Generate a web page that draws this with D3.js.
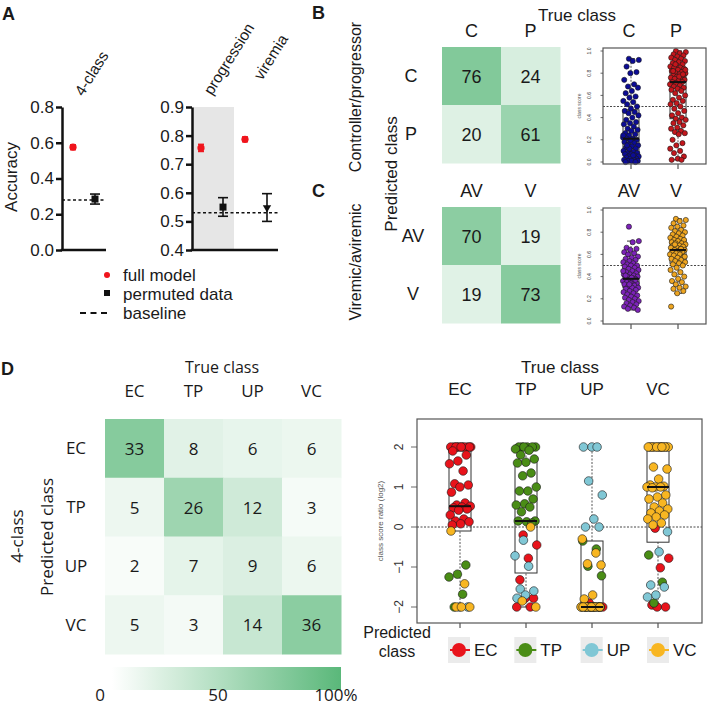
<!DOCTYPE html>
<html><head><meta charset="utf-8">
<script src="https://cdn.jsdelivr.net/npm/d3@7"></script>
<style>body{margin:0;background:#fff}svg{display:block}</style>
</head><body><svg id="c" width="709" height="715"></svg>
<script>
const F = "'Liberation Sans', Arial, Helvetica, sans-serif";
const FO = "'Open Sans', 'Liberation Sans', sans-serif";

// ---------- Panel A data ----------
const aLeftCats = ["4-class"];
const aLeftFull = [0.575], aLeftFullErr = [0.013];
const aLeftPerm = [0.285], aLeftPermLo = [0.257], aLeftPermHi = [0.313];
const aLeftBaseline = 0.28;
const aLeftTicks = [0, 0.2, 0.4, 0.6, 0.8];
const aRightCats = ["progression", "viremia"];
const aRightFull = [0.757, 0.787], aRightFullErr = [0.012, 0.008];
const aRightPerm = [0.55, 0.548], aRightPermLo = [0.518, 0.500], aRightPermHi = [0.583, 0.597];
const aRightBaseline = 0.53;
const aRightTicks = [0.4, 0.5, 0.6, 0.7, 0.8, 0.9];
const aLegend = ["full model", "permuted data", "baseline"];

// ---------- Panel B/C data ----------
const bClasses = ["C", "P"];
const bMatrix = [[76, 24], [20, 61]];
const cClasses = ["AV", "V"];
const cMatrix = [[70, 19], [19, 73]];
const stripTicks = [0, 0.2, 0.4, 0.6, 0.8, 1.0];
const bScoresC = [0.93,0.92,0.91,0.86,0.81,0.80,0.74,0.70,0.68,0.67,0.64,0.62,0.59,0.58,0.55,0.54,0.52,0.50,0.48,0.46,0.45,0.44,0.42,0.40,0.38,0.36,0.35,0.34,0.32,0.30,0.29,0.28,0.26,0.25,0.24,0.22,0.21,0.21,0.20,0.19,0.18,0.17,0.16,0.15,0.14,0.13,0.12,0.11,0.10,0.09,0.08,0.08,0.07,0.07,0.06,0.05,0.05,0.04,0.04,0.03,0.03,0.02,0.02,0.01,0.01,0.01,0.00,0.00,0.12,0.24,0.06,0.15];
const bScoresP = [1.0,0.99,0.98,0.97,0.96,0.95,0.94,0.93,0.92,0.91,0.90,0.89,0.88,0.87,0.86,0.85,0.85,0.84,0.83,0.82,0.81,0.80,0.80,0.79,0.78,0.78,0.77,0.76,0.75,0.75,0.74,0.73,0.72,0.72,0.71,0.70,0.69,0.68,0.67,0.66,0.65,0.64,0.62,0.60,0.58,0.56,0.55,0.53,0.52,0.50,0.48,0.46,0.44,0.42,0.40,0.39,0.38,0.36,0.35,0.33,0.31,0.30,0.28,0.27,0.26,0.25,0.20,0.17,0.15,0.12,0.10,0.08,0.05,0.03,0.02,0.02,0.88,0.83,0.77,0.82,0.79];
const bBox = {q1:[0.07,0.39], med:[0.21,0.72], q3:[0.47,0.85], lo:[0.0,0.02], hi:[0.93,1.0]};
const bColors = ["#0c0c96", "#c4161c"];
const cScoresAV = [0.85,0.72,0.71,0.66,0.65,0.64,0.62,0.61,0.60,0.58,0.57,0.56,0.55,0.54,0.53,0.52,0.51,0.50,0.50,0.49,0.48,0.47,0.46,0.45,0.44,0.43,0.42,0.42,0.41,0.40,0.40,0.39,0.38,0.38,0.37,0.36,0.36,0.35,0.34,0.34,0.33,0.32,0.31,0.30,0.30,0.29,0.28,0.27,0.26,0.25,0.24,0.23,0.22,0.21,0.20,0.19,0.18,0.17,0.16,0.15,0.14,0.13,0.12,0.11,0.10,0.39,0.41,0.37,0.33,0.45];
const cScoresV = [0.92,0.91,0.90,0.88,0.86,0.85,0.84,0.82,0.81,0.80,0.79,0.78,0.77,0.76,0.75,0.74,0.73,0.73,0.72,0.71,0.70,0.70,0.69,0.68,0.68,0.67,0.66,0.66,0.65,0.64,0.64,0.63,0.62,0.62,0.61,0.60,0.60,0.59,0.58,0.57,0.56,0.55,0.54,0.53,0.52,0.51,0.50,0.48,0.46,0.44,0.42,0.40,0.38,0.36,0.35,0.33,0.31,0.30,0.29,0.27,0.25,0.13,0.65,0.69,0.58];
const cBox = {q1:[0.30,0.52], med:[0.38,0.64], q3:[0.50,0.73], lo:[0.10,0.25], hi:[0.72,0.92]};
const cColors = ["#7c22b8", "#eea520"];

// ---------- Panel D data ----------
const dClasses = ["EC", "TP", "UP", "VC"];
const dMatrix = [[33, 8, 6, 6], [5, 26, 12, 3], [2, 7, 9, 6], [5, 3, 14, 36]];
const dColors = ["#e8131b", "#4a8d16", "#80c7d5", "#f8b622"];
const dTrueEC = [
  [2,2,2,2,2,2,2,2,2,2,2,1.9,1.8,1.65,1.58,1.4,1.08,1.05,1.0,0.87,0.6,0.55,0.52,0.5,0.48,0.45,0.42,0.3,0.2,0.15,0.13,0.08,0.05],
  [-0.95,-1.18,-1.25,-1.68,-2],
  [-2,-2],
  [-0.1,-1.42,-2,-2,-2]];
const dTrueTP = [
  [-0.2,-0.45,-0.78,-1.32,-1.78,-1.78,-2,-2],
  [2,2,2,2,2,2,1.95,1.92,1.8,1.7,1.62,1.6,1.35,1.28,1.0,0.9,0.9,0.7,0.58,0.55,0.5,0.38,0.15,0.13,0.15,0.1],
  [-0.33,-0.72,-0.98,-1.55,-1.6,-1.7,-1.78],
  [0.0,-1.85,-2]];
const dTrueUP = [
  [-1.9,-2,-2,-2,-2,-2],
  [-0.35,-0.55,-0.98,-1.22,-2,-2,-2,-2,-2,-2,-2,-2],
  [2,2,2,1.15,0.8,0.2,0,0,-2],
  [-0.3,-0.65,-0.92,-0.95,-1.7,-1.8,-2,-2,-2,-2,-2,-2,-2,-2]];
const dTrueVC = [
  [-0.03,-0.78,-1.02,-1.95,-2,-2],
  [-0.7,-1.38,-1.9],
  [-0.12,-0.62,-1.45,-1.5,-1.7,-1.75],
  [2,2,2,2,2,2,2,2,2,2,2,2,2,2,1.5,1.45,1.2,1.05,1.02,1.0,1.0,1.0,0.98,0.8,0.75,0.7,0.6,0.5,0.45,0.4,0.35,0.3,0.25,0.2,0.1,0.05]];
const dBox = {q1:[-0.1,-1.15,-2,-0.38], med:[0.52,0.15,-2,1.0], q3:[2,1.65,-0.35,2], lo:[-2,-2,-2,-2], hi:[2,2,2,2]};
const dTicks = [-2, -1, 0, 1, 2];
const colorbarTicks = [0, 50, 100];

// ---------- helpers ----------
const svg = d3.select("#c");
svg.append("rect").attr("width", 709).attr("height", 715).attr("fill", "#fff");
function label(x, y, t, size, o = {}) {
  return svg.append("text").attr("x", x).attr("y", y).text(t)
    .attr("font-family", o.ff || F).attr("font-size", size)
    .attr("font-weight", o.bold ? "bold" : "normal")
    .attr("text-anchor", o.anchor || "start").attr("fill", o.fill || "#1a1a1a")
    .attr("transform", o.rot != null ? `rotate(${o.rot},${x},${y})` : null);
}
function errbar(g, x, y1, y2, cap, col, w) {
  g.append("line").attr("x1", x).attr("x2", x).attr("y1", y1).attr("y2", y2).attr("stroke", col).attr("stroke-width", w);
  [y1, y2].forEach(yy => g.append("line").attr("x1", x - cap).attr("x2", x + cap).attr("y1", yy).attr("y2", yy).attr("stroke", col).attr("stroke-width", w));
}
const jit = (k, w) => (((k * 0.618034 + 0.37) % 1) - 0.5) * 2 * w;

// ---------- Panel A ----------
function drawAccuracy(o) {
  const y = d3.scaleLinear().domain(o.domain).range([250, 107]);
  const x = d3.scaleBand().domain(o.cats).range(o.band);
  const g = svg.append("g");
  if (o.shade) g.append("rect").attr("x", o.axisX).attr("y", 107)
    .attr("width", x(o.cats[0]) + x.bandwidth() - o.axisX).attr("height", 143).attr("fill", "#e6e6e6");
  g.append("line").attr("x1", o.axisX).attr("x2", o.xEnd).attr("y1", y(o.baseline)).attr("y2", y(o.baseline))
    .attr("stroke", "#111").attr("stroke-width", 1.5).attr("stroke-dasharray", "3,2.5");
  o.cats.forEach((c, i) => {
    const xf = x(c) + x.bandwidth() * 0.25, xp = x(c) + x.bandwidth() * 0.75;
    errbar(g, xf, y(o.full[i] - o.fullErr[i]), y(o.full[i] + o.fullErr[i]), 3, "#ee1c24", 1.8);
    g.append("circle").attr("cx", xf).attr("cy", y(o.full[i])).attr("r", 3.6).attr("fill", "#f0141c");
    errbar(g, xp, y(o.permLo[i]), y(o.permHi[i]), 5, "#111", 1.6);
    if (o.shapes[i] === "square")
      g.append("rect").attr("x", xp - 3.5).attr("y", y(o.perm[i]) - 3.5).attr("width", 7).attr("height", 7).attr("fill", "#111");
    else
      g.append("path").attr("d", d3.symbol(d3.symbolTriangle, 30)()).attr("fill", "#111")
        .attr("transform", `translate(${xp},${y(o.perm[i])}) rotate(180)`);
    const lp = o.labelPos[i];
    label(x(c) + x.bandwidth() / 2 + lp[0], lp[1], c, 15.5, {rot: -58});
  });
  const ax = g.append("g").attr("transform", `translate(${o.axisX},0)`)
    .call(d3.axisLeft(y).tickValues(o.ticks).tickFormat(d3.format(".1f")).tickSize(6).tickSizeOuter(0).tickPadding(2));
  ax.select(".domain").attr("stroke", "#111").attr("stroke-width", 2.5);
  ax.selectAll(".tick line").attr("stroke", "#111").attr("stroke-width", 2.5);
  ax.selectAll(".tick text").attr("font-family", F).attr("font-size", 17).attr("fill", "#1a1a1a");
  g.append("line").attr("x1", o.axisX - 1.25).attr("x2", o.xEnd).attr("y1", 250).attr("y2", 250)
    .attr("stroke", "#111").attr("stroke-width", 2.5);
}
drawAccuracy({domain: [0, 0.8], ticks: aLeftTicks, cats: aLeftCats, band: [62, 106], axisX: 62, xEnd: 106,
  full: aLeftFull, fullErr: aLeftFullErr, perm: aLeftPerm, permLo: aLeftPermLo, permHi: aLeftPermHi,
  shapes: ["square"], baseline: aLeftBaseline, shade: false, labelPos: [[-1, 97]]});
drawAccuracy({domain: [0.4, 0.9], ticks: aRightTicks, cats: aRightCats, band: [190, 278], axisX: 192, xEnd: 278,
  full: aRightFull, fullErr: aRightFullErr, perm: aRightPerm, permLo: aRightPermLo, permHi: aRightPermHi,
  shapes: ["square", "triangle"], baseline: aRightBaseline, shade: true, labelPos: [[0, 96], [6, 81]]});
label(17, 177, "Accuracy", 17, {rot: -90, anchor: "middle"});
label(2, 20, "A", 18, {bold: true});
// legend A
svg.append("circle").attr("cx", 107).attr("cy", 275).attr("r", 3).attr("fill", "#f0141c");
svg.append("rect").attr("x", 104).attr("y", 290).attr("width", 6).attr("height", 6).attr("fill", "#111");
svg.append("line").attr("x1", 80).attr("x2", 111).attr("y1", 313).attr("y2", 313).attr("stroke", "#111")
  .attr("stroke-width", 1.8).attr("stroke-dasharray", "6,4.5");
aLegend.forEach((t, i) => label(123, 281 + i * 19, t, 17));

// ---------- Heatmaps ----------
const heatColor = d3.scaleLinear().domain([0, 100]).range(["#ffffff", "#5ab87a"]);
function drawHeat(o) {
  const x = d3.scaleBand().domain(o.cols).range(o.xr);
  const y = d3.scaleBand().domain(o.rows).range(o.yr);
  const colSums = o.cols.map((c, j) => d3.sum(o.matrix, r => r[j]));
  const g = svg.append("g");
  o.rows.forEach((r, i) => o.cols.forEach((c, j) => {
    const v = o.matrix[i][j];
    const pct = o.byColumn ? v / colSums[j] * 100 : v;
    g.append("rect").attr("x", x(c)).attr("y", y(r)).attr("width", x.bandwidth() + 0.5).attr("height", y.bandwidth() + 0.5)
      .attr("fill", heatColor(pct));
    label(x(c) + x.bandwidth() / 2, y(r) + y.bandwidth() / 2 + 6.5, v, o.numSize, {anchor: "middle", ff: o.ff});
  }));
  o.cols.forEach(c => label(x(c) + x.bandwidth() / 2, o.colY, c, o.labSize, {anchor: "middle", ff: o.ff}));
  o.rows.forEach(r => label(o.rowX, y(r) + y.bandwidth() / 2 + 6, r, o.labSize, {anchor: "middle", ff: o.ff}));
}
drawHeat({rows: bClasses, cols: bClasses, matrix: bMatrix, xr: [442, 560], yr: [47, 163], colY: 37, rowX: 411,
  numSize: 18, labSize: 18, ff: F});
drawHeat({rows: cClasses, cols: cClasses, matrix: cMatrix, xr: [442, 560], yr: [207, 323], colY: 197, rowX: 413,
  numSize: 18, labSize: 18, ff: F});
drawHeat({rows: dClasses, cols: dClasses, matrix: dMatrix, xr: [105, 341], yr: [419, 654], colY: 397, rowX: 76,
  numSize: 17, labSize: 17, ff: FO, byColumn: true});

label(312, 19, "B", 18, {bold: true});
label(312, 197, "C", 18, {bold: true});
label(1, 375, "D", 18, {bold: true});
label(361, 97, "Controller/progressor", 16, {rot: -90, anchor: "middle"});
label(361, 262, "Viremic/aviremic", 16, {rot: -90, anchor: "middle"});
label(397, 174, "Predicted class", 17, {rot: -90, anchor: "middle"});
label(577, 21, "True class", 17, {anchor: "middle"});
label(222, 373, "True class", 16, {anchor: "middle", ff: FO});
label(53, 537, "Predicted class", 17, {rot: -90, anchor: "middle", ff: FO});
label(23, 536, "4-class", 17, {rot: -90, anchor: "middle", ff: FO});

// colorbar
const defs = svg.append("defs");
const grad = defs.append("linearGradient").attr("id", "cbg").attr("x1", "0%").attr("x2", "100%");
d3.range(0, 1.01, 0.1).forEach(t => grad.append("stop").attr("offset", t * 100 + "%").attr("stop-color", heatColor(t * 100)));
svg.append("rect").attr("x", 112).attr("y", 667).attr("width", 229).attr("height", 23).attr("fill", "url(#cbg)");
const cbx = d3.scaleLinear().domain([0, 100]).range([100, 336]);
colorbarTicks.forEach(t => label(cbx(t), 701, t === 100 ? "100%" : String(t), 17, {anchor: "middle", ff: FO}));

// ---------- Strip plots ----------
function drawStrip(o) {
  const [bx0, bx1, by0, by1] = o.box;
  const y = d3.scaleLinear().domain(o.domain).range(o.yr);
  const x = d3.scalePoint().domain(o.groups).range(o.xr);
  const g = svg.append("g");
  g.append("line").attr("x1", bx0).attr("x2", bx1).attr("y1", y(o.dash)).attr("y2", y(o.dash))
    .attr("stroke", "#333").attr("stroke-width", 0.9).attr("stroke-dasharray", "2,1.5");
  o.groups.forEach((gr, i) => {
    const cx = x(gr), hw = o.boxHalf;
    const wl = (a, b) => g.append("line").attr("x1", cx).attr("x2", cx).attr("y1", y(a)).attr("y2", y(b))
      .attr("stroke", "#444").attr("stroke-width", 0.9).attr("stroke-dasharray", "2,1.5");
    wl(o.stats.q3[i], o.stats.hi[i]); wl(o.stats.lo[i], o.stats.q1[i]);
    [o.stats.lo[i], o.stats.hi[i]].forEach(v => g.append("line").attr("x1", cx - hw * 0.5).attr("x2", cx + hw * 0.5)
      .attr("y1", y(v)).attr("y2", y(v)).attr("stroke", "#333").attr("stroke-width", 1));
    g.append("rect").attr("x", cx - hw).attr("y", y(o.stats.q3[i])).attr("width", 2 * hw)
      .attr("height", Math.max(0.5, y(o.stats.q1[i]) - y(o.stats.q3[i]))).attr("fill", "none")
      .attr("stroke", "#333").attr("stroke-width", 1);
  });
  o.groups.forEach((gr, i) => {
    const cx = x(gr);
    let k = 0;
    o.points[i].forEach((arr, c) => arr.forEach(v => {
      g.append("circle").attr("cx", cx + jit(k++, o.jw)).attr("cy", y(v)).attr("r", o.r)
        .attr("fill", o.colors[i][c]).attr("stroke", "#1a1a1a").attr("stroke-width", 0.6);
    }));
  });
  o.groups.forEach((gr, i) => {
    const cx = x(gr);
    g.append("line").attr("x1", cx - o.boxHalf).attr("x2", cx + o.boxHalf).attr("y1", y(o.stats.med[i])).attr("y2", y(o.stats.med[i]))
      .attr("stroke", "#111").attr("stroke-width", 2);
    g.append("line").attr("x1", cx).attr("x2", cx).attr("y1", by1).attr("y2", by1 + 5).attr("stroke", "#333").attr("stroke-width", 1);
    label(cx + o.colLabDx, o.colY, gr, o.colSize, {anchor: "middle"});
  });
  g.append("rect").attr("x", bx0).attr("y", by0).attr("width", bx1 - bx0).attr("height", by1 - by0)
    .attr("fill", "none").attr("stroke", "#555").attr("stroke-width", 1.2);
  o.ticks.forEach(t => {
    g.append("line").attr("x1", bx0).attr("x2", bx0 - o.tickLen).attr("y1", y(t)).attr("y2", y(t)).attr("stroke", "#444").attr("stroke-width", 0.8);
    label(o.tickX, y(t), o.fmt(t), o.tickSize, {rot: -90, anchor: "middle", fill: "#333"});
  });
  label(o.ylabX, (by0 + by1) / 2, o.ylab, o.ylabSize, {rot: -90, anchor: "middle", fill: "#555"});
}
drawStrip({box: [603, 706, 48, 164], domain: [0, 1], yr: [162, 51], groups: bClasses, xr: [631, 678],
  points: [[bScoresC], [bScoresP]], colors: [[bColors[0]], [bColors[1]]], stats: bBox, dash: 0.5, boxHalf: 8, jw: 8, r: 2.6,
  ticks: stripTicks, fmt: d3.format(".1f"), tickX: 591, tickSize: 5, tickLen: 2.5, ylab: "class score", ylabX: 581, ylabSize: 5,
  colY: 37, colSize: 18, colLabDx: -2});
drawStrip({box: [603, 706, 208, 324], domain: [0, 1], yr: [321, 210], groups: cClasses, xr: [631, 678],
  points: [[cScoresAV], [cScoresV]], colors: [[cColors[0]], [cColors[1]]], stats: cBox, dash: 0.5, boxHalf: 8, jw: 8, r: 2.6,
  ticks: stripTicks, fmt: d3.format(".1f"), tickX: 591, tickSize: 5, tickLen: 2.5, ylab: "class score", ylabX: 581, ylabSize: 5,
  colY: 197, colSize: 18, colLabDx: -2});
drawStrip({box: [417, 702, 419, 623], domain: [-2, 2], yr: [607, 447], groups: dClasses, xr: [460, 658],
  points: [dTrueEC, dTrueTP, dTrueUP, dTrueVC], colors: dClasses.map(() => dColors), stats: dBox, dash: 0,
  boxHalf: 11, jw: 11, r: 4.3, ticks: dTicks, fmt: d3.format("d"), tickX: 403, tickSize: 12, tickLen: 6,
  ylab: "class score ratio (log2)", ylabX: 383, ylabSize: 8, colY: 395, colSize: 17, colLabDx: 0});
label(560, 373, "True class", 17, {anchor: "middle"});

// legend D
label(397, 638, "Predicted", 16, {anchor: "middle"});
label(397, 657, "class", 16, {anchor: "middle"});
const lx = d3.scalePoint().domain(dClasses).range([448, 647]);
dClasses.forEach((c, i) => {
  const x0 = lx(c);
  svg.append("rect").attr("x", x0).attr("y", 637).attr("width", 22).attr("height", 26).attr("fill", "#ebebeb");
  svg.append("line").attr("x1", x0 + 2).attr("x2", x0 + 22).attr("y1", 650).attr("y2", 650).attr("stroke", dColors[i]).attr("stroke-width", 2);
  svg.append("circle").attr("cx", x0 + 11).attr("cy", 650).attr("r", 7).attr("fill", dColors[i]);
  label(x0 + 26, 656, c, 17);
});
</script>
</body></html>
